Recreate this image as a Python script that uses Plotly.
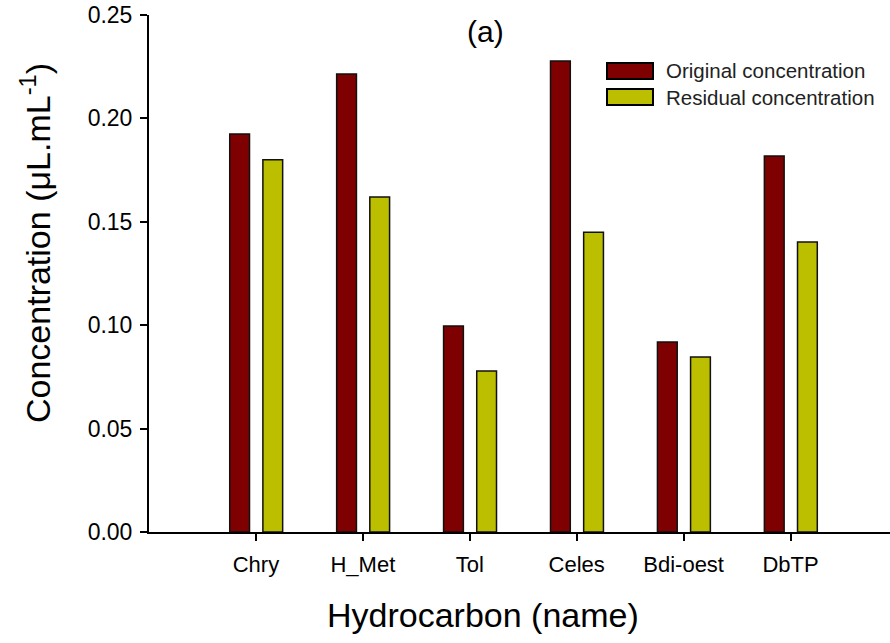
import plotly.graph_objects as go

categories = ["Chry", "H_Met", "Tol", "Celes", "Bdi-oest", "DbTP"]
original = [0.1925, 0.2215, 0.0996, 0.2278, 0.0919, 0.1818]
residual = [0.1800, 0.1620, 0.0779, 0.1450, 0.0846, 0.1402]
series_names = ["Original concentration", "Residual concentration"]
colors = ["#7F0000", "#BCBF00"]
y_ticks = [0.00, 0.05, 0.10, 0.15, 0.20, 0.25]

fig = go.Figure()
for vals, name, col, off in [(original, series_names[0], colors[0], -0.245),
                              (residual, series_names[1], colors[1], 0.065)]:
    fig.add_trace(go.Bar(
        x=list(range(len(categories))), y=vals, name=name,
        marker=dict(color=col, line=dict(color="#111111", width=1.5)),
        width=0.185, offset=off, showlegend=False,
    ))

fig.update_layout(
    width=890, height=643,
    margin=dict(l=149, r=0, t=15, b=111),
    plot_bgcolor="white", paper_bgcolor="white",
    barmode="overlay",
    font=dict(family="Arial, Liberation Sans, sans-serif", color="black"),
    xaxis=dict(
        range=[-1.0, 5.93], tickmode="array",
        tickvals=list(range(len(categories))), ticktext=categories,
        showline=True, linecolor="black", linewidth=2,
        ticks="outside", ticklen=7, tickwidth=1.5, tickcolor="black",
        tickfont=dict(size=22), ticklabelstandoff=5,
        showgrid=False, zeroline=False,
    ),
    yaxis=dict(
        range=[0, 0.25], tickmode="array", tickvals=y_ticks,
        tickformat=".2f",
        showline=True, linecolor="black", linewidth=2,
        ticks="outside", ticklen=7, tickwidth=1.5, tickcolor="black",
        tickfont=dict(size=23), ticklabelstandoff=3,
        showgrid=False, zeroline=False,
    ),
)

W = 890 - 149
H = 643 - 15 - 111
def px(x):
    return (x - 149) / W
def py(y):
    return (532 - y) / H

# axis titles
fig.add_annotation(text="Hydrocarbon (name)", x=px(483), y=py(615), xref="paper", yref="paper",
                   showarrow=False, font=dict(size=34), xanchor="center", yanchor="middle")
fig.add_annotation(text="Concentration (μL.mL<sup>-1</sup>)", x=px(36), y=py(243),
                   xref="paper", yref="paper", textangle=-90,
                   showarrow=False, font=dict(size=34), xanchor="center", yanchor="middle")

fig.add_annotation(text="(a)", x=px(485), y=py(31), xref="paper", yref="paper",
                   showarrow=False, font=dict(size=30), xanchor="center", yanchor="middle")

for i, (name, col) in enumerate(zip(series_names, colors)):
    yc = 71 + i * 26
    fig.add_shape(type="rect", xref="paper", yref="paper",
                  x0=px(607), x1=px(653), y0=py(yc - 8), y1=py(yc + 8),
                  fillcolor=col, line=dict(color="black", width=2))
    fig.add_annotation(text=name, x=px(664), y=py(yc), xref="paper", yref="paper",
                       showarrow=False, xanchor="left", yanchor="middle",
                       font=dict(size=20.5, color="#222"))

fig.write_html("out.html")
